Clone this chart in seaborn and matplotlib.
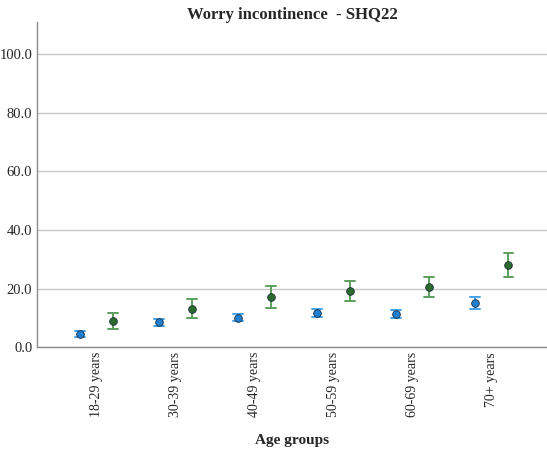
import pandas as pd
import matplotlib.pyplot as plt
import matplotlib.colors as mcolors
import seaborn as sns

# Data
age_groups = ["18-29 years", "30-39 years", "40-49 years", "50-59 years", "60-69 years", "70+ years"]
series_names = ["Blue", "Green"]

blue_mean = [4.5, 8.4, 10.0, 11.7, 11.3, 15.0]
blue_low = [3.5, 7.2, 8.8, 10.4, 10.0, 13.0]
blue_high = [5.5, 9.6, 11.2, 13.0, 12.7, 17.0]

green_mean = [9.0, 13.0, 17.0, 19.0, 20.5, 28.0]
green_low = [6.3, 10.0, 13.2, 15.6, 17.2, 24.0]
green_high = [11.8, 16.3, 21.0, 22.5, 24.0, 32.0]

yticks = [0, 20, 40, 60, 80, 100]

# Long table: low / mean / high per group, median = mean, full range = error bar
rows = []
for name, lo, mid, hi in [("Blue", blue_low, blue_mean, blue_high),
                          ("Green", green_low, green_mean, green_high)]:
    for g, a, b, c in zip(age_groups, lo, mid, hi):
        for v in (a, b, c):
            rows.append({"age": g, "series": name, "value": v})
df = pd.DataFrame(rows)

sns.set_style("white")
plt.rcParams["font.family"] = ["Liberation Serif", "DejaVu Serif"]

marker_colors = {"Blue": "#1f7fd0", "Green": "#2c6b2c"}
err_colors = {"Blue": "#45a3ec", "Green": "#5c9e5c"}

fig = plt.figure(figsize=(5.47, 4.49), dpi=100)
ax = fig.add_axes([0.068, 0.227, 0.932, 0.724])

sns.pointplot(
    data=df, x="age", y="value", hue="series", order=age_groups,
    hue_order=series_names, estimator="median", errorbar=("pi", 100),
    dodge=0.42, linestyle="none", markers="o", capsize=0.12,
    palette=marker_colors, markersize=5.5, err_kws={"linewidth": 1.4}, ax=ax,
)

# markers get a dark edge, error bars a lighter tint of the series colour
for line in ax.lines:
    c = mcolors.to_hex(line.get_color())
    name = "Blue" if c == mcolors.to_hex(marker_colors["Blue"]) else "Green"
    if line.get_marker() not in (None, "", "None", "none"):
        line.set_markerfacecolor(marker_colors[name])
        line.set_markeredgecolor("#1a2a3a")
        line.set_markeredgewidth(0.6)
        line.set_zorder(4)
    else:
        line.set_color(err_colors[name])
        line.set_zorder(3)

if ax.get_legend() is not None:
    ax.get_legend().remove()

ax.set_xlim(-0.75, 5.7)
ax.set_ylim(0, 111)
ax.set_yticks(yticks)
ax.set_yticklabels([f"{v:.1f}" for v in yticks], fontsize=10.5)
ax.yaxis.grid(True, color="#c8c8c8", linewidth=1)
ax.set_axisbelow(True)
ax.tick_params(axis="both", length=0)
ax.tick_params(axis="x", labelrotation=90, labelsize=10)
ax.set_ylabel("")
ax.set_xlabel("Age groups", fontsize=11, fontweight="bold", labelpad=12)
ax.set_title("Worry incontinence  - SHQ22", fontsize=12, fontweight="bold", pad=2)

for side in ["top", "right"]:
    ax.spines[side].set_visible(False)
for side in ["left", "bottom"]:
    ax.spines[side].set_color("#8c8c8c")
    ax.spines[side].set_linewidth(1)

plt.savefig("out.png", dpi=100)
